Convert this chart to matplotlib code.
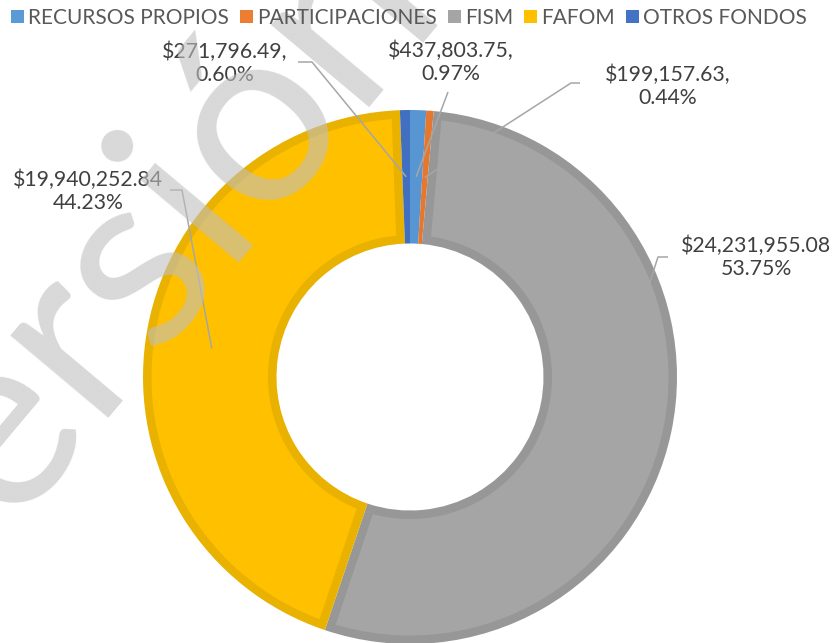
import matplotlib
matplotlib.use('Agg')
import matplotlib.pyplot as plt
from matplotlib.patches import Patch, Polygon
from matplotlib.font_manager import FontProperties
import numpy as np

# ---- data ----
categories = ['RECURSOS PROPIOS', 'PARTICIPACIONES', 'FISM', 'FAFOM', 'OTROS FONDOS']
values = [437803.75, 199157.63, 24231955.08, 19940252.84, 271796.49]
value_labels = ['$437,803.75', '$199,157.63', '$24,231,955.08', '$19,940,252.84', '$271,796.49']
percent_labels = ['0.97%', '0.44%', '53.75%', '44.23%', '0.60%']
label_seps = [',', ',', '', '', ',']

# ---- style ----
colors = ['#5b9bd5', '#ed7d31', '#a5a5a5', '#ffc000', '#4472c4']
edge_colors = ['#5796d2', '#e5782e', '#979797', '#e9b100', '#4170c0']
FONT = 'Lato'
plt.rcParams['font.family'] = [FONT, 'DejaVu Sans']

W, H = 833, 643
fig = plt.figure(figsize=(W / 100, H / 100), dpi=100)
ax = fig.add_axes([0, 0, 1, 1])

CX, CY, R = 410, 377, 267      # pixel centre and radius of the ring
def px(x, y):
    return ((x - CX) / R, (CY - y) / R)

RING = 0.5
wedges, _ = ax.pie(values, colors=edge_colors, startangle=90, counterclock=False,
                   radius=1, wedgeprops=dict(width=RING, linewidth=0))

# inner (lighter) fill of each slice, inset by a border width
b = 8.5 / R
r_out, r_in = 1 - b, 1 - RING + b
for w, fc in zip(wedges, colors):
    t1, t2 = np.deg2rad(w.theta1), np.deg2rad(w.theta2)
    d_o, d_i = np.arcsin(b / r_out), np.arcsin(b / r_in)
    if (t2 - t1) <= 2 * d_i + 0.002:
        continue
    a_o = np.linspace(t1 + d_o, t2 - d_o, 200)
    a_i = np.linspace(t2 - d_i, t1 + d_i, 200)
    xs = np.concatenate([r_out * np.cos(a_o), r_in * np.cos(a_i)])
    ys = np.concatenate([r_out * np.sin(a_o), r_in * np.sin(a_i)])
    ax.add_patch(Polygon(np.column_stack([xs, ys]), closed=True,
                         facecolor=fc, edgecolor='none', zorder=2))

ax.set_xlim(px(0, 0)[0], px(W, 0)[0])
ax.set_ylim(px(0, H)[1], px(0, 0)[1])
ax.set_aspect('auto')
ax.axis('off')

# ---- data labels with leader lines ----
label_pos = [(451, 62), (668, 86), (756, 257), (88, 191), (225, 63)]
leader_pts = [
    [(448, 92)],
    [(580, 83), (571, 83)],
    [(668, 257), (658, 257)],
    [(170, 190), (182, 190)],
    [(298, 62), (312, 62)],
]
total = float(sum(values))
cum = np.cumsum([0] + values[:-1]) / total
fracs = np.array(values) / total
r_mid = 1 - RING / 2
for i in range(len(values)):
    mid = cum[i] + fracs[i] / 2
    ang = np.deg2rad(90 - 360 * mid)
    end = (r_mid * np.cos(ang), r_mid * np.sin(ang))
    pts = [px(*p) for p in leader_pts[i]] + [end]
    xs, ys = zip(*pts)
    ax.plot(xs, ys, color='#a6a6a6', lw=1.1, zorder=5, solid_capstyle='butt')
    tx, ty = px(*label_pos[i])
    ax.text(tx, ty, f"{value_labels[i]}{label_seps[i]}\n{percent_labels[i]}",
            ha='center', va='center', fontsize=15.3, color='#404040',
            linespacing=1.18, zorder=6)

# ---- legend ----
handles = [Patch(facecolor=c, edgecolor='none') for c in colors]
fig.legend(handles, categories, loc='center', bbox_to_anchor=(409 / W, 1 - 18 / H),
           ncol=5, frameon=False, fontsize=15.0, labelcolor='#595959',
           handlelength=0.62, handleheight=0.62, handletextpad=0.18,
           columnspacing=0.55, borderaxespad=0, borderpad=0)

# ---- watermark: place so the "ó" centre sits at the target pixel ----
WM_TEXT, WM_SIZE, WM_ROT = 'Versión', 182, 50
target = np.array([262.0, 132.0])          # pixel (from top-left)
renderer = fig.canvas.get_renderer()
prop = FontProperties(family=FONT, size=WM_SIZE)
w_pre = renderer.get_text_width_height_descent('Versi', prop, ismath=False)[0]
w_o = renderer.get_text_width_height_descent('o', prop, ismath=False)[0]
em = WM_SIZE * 100 / 72
rot = np.deg2rad(WM_ROT)
u = np.array([np.cos(rot), -np.sin(rot)])      # baseline direction (screen)
n_up = np.array([-np.sin(rot), -np.cos(rot)])  # "up" direction (screen)
start = target - (w_pre + w_o / 2) * u - 0.26 * em * n_up
sx, sy = px(*start)
ax.text(sx, sy, WM_TEXT, fontsize=WM_SIZE, color='#bfbfbf', alpha=0.6,
        rotation=WM_ROT, rotation_mode='anchor', ha='left', va='baseline',
        zorder=10, family=FONT)

fig.savefig('out.png', dpi=100)
